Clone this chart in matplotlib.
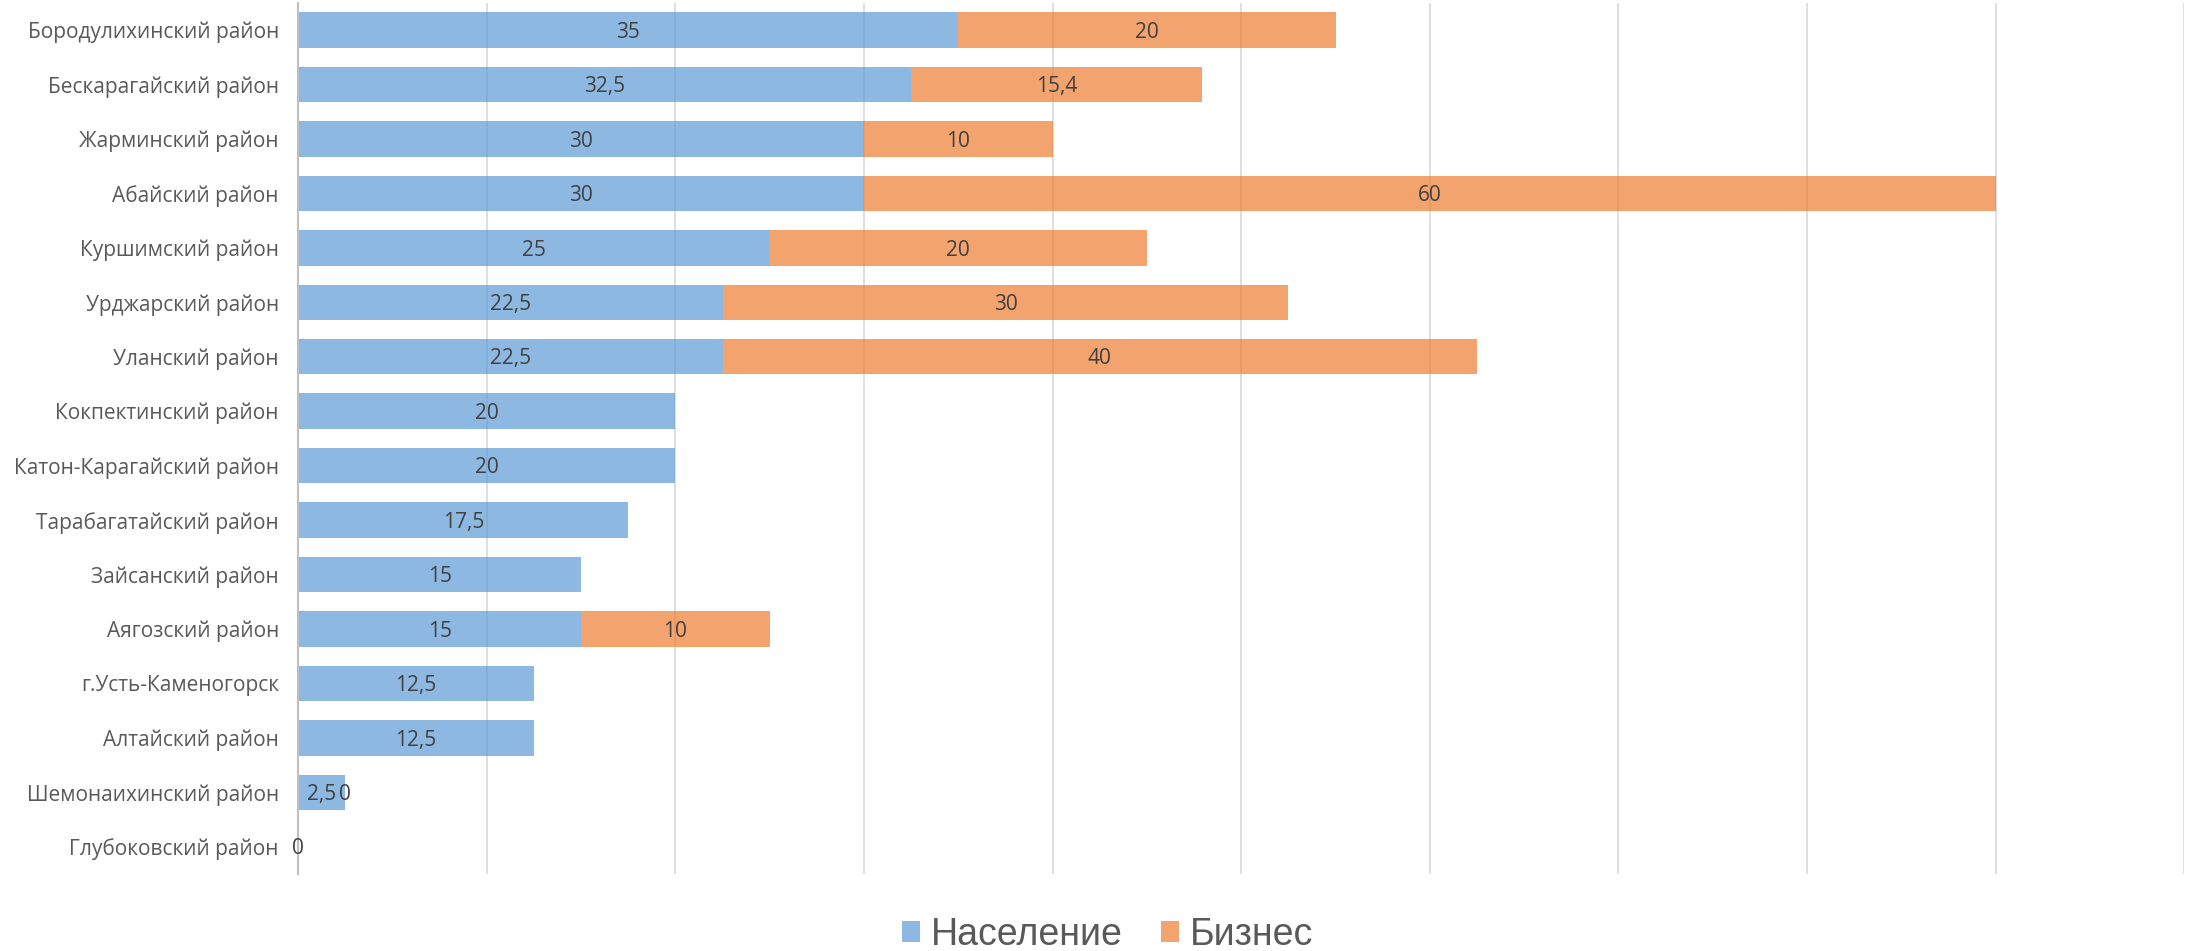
import numpy as np
import matplotlib.pyplot as plt

# районы сверху вниз
districts = ['Бородулихинский район', 'Бескарагайский район', 'Жарминский район',
             'Абайский район', 'Куршимский район', 'Урджарский район', 'Уланский район',
             'Кокпектинский район', 'Катон-Карагайский район', 'Тарабагатайский район',
             'Зайсанский район', 'Аягозский район', 'г.Усть-Каменогорск', 'Алтайский район',
             'Шемонаихинский район', 'Глубоковский район']
naselenie = [35, 32.5, 30, 30, 25, 22.5, 22.5, 20, 20, 17.5, 15, 15, 12.5, 12.5, 2.5, 0]
biznes = [20, 15.4, 10, 60, 20, 30, 40, np.nan, np.nan, np.nan, np.nan, 10, np.nan, np.nan, 0, np.nan]

blue = '#5B9BD5'
orange = '#ED7D31'

def fmt(v):
    return ('%g' % v).replace('.', ',')

fig = plt.figure(figsize=(21.93, 9.51), dpi=100)
ax = fig.add_axes([0.136, 0.081, 0.86, 0.916])

y = np.arange(len(districts))
nas = np.array(naselenie, dtype=float)
biz = np.array(biznes, dtype=float)

b1 = ax.barh(y, nas, height=0.65, color=blue, alpha=0.7, label='Население', zorder=2)
b2 = ax.barh(y, np.nan_to_num(biz), left=nas, height=0.65, color=orange, alpha=0.7,
             label='Бизнес', zorder=2)

# подписи данных
for i in range(len(y)):
    ax.text(nas[i] / 2, y[i] + 0.04, fmt(nas[i]), ha='center', va='center',
            fontsize=15, color='#404040', family='Open Sans', zorder=3)
    if not np.isnan(biz[i]):
        ax.text(nas[i] + biz[i] / 2, y[i] + 0.04, fmt(biz[i]), ha='center', va='center',
                fontsize=15, color='#404040', family='Open Sans', zorder=3)

ax.set_xlim(0, 100)
ax.set_ylim(len(districts) - 0.5, -0.5)
ax.set_yticks(y)
ax.set_yticklabels(districts, fontsize=15, color='#595959', family='Open Sans')
ax.set_xticks(np.arange(0, 101, 10))
ax.set_xticklabels([])
ax.tick_params(axis='both', length=0, pad=14)
ax.grid(axis='x', color='#d9d9d9', linewidth=1.2, zorder=0)
for s in ['top', 'right', 'bottom']:
    ax.spines[s].set_visible(False)
ax.spines['left'].set_color('#bfbfbf')
ax.spines['left'].set_linewidth(1.5)

leg = fig.legend(handles=[b1, b2], loc='center', bbox_to_anchor=(0.505, 0.017), ncol=2,
                 frameon=False, fontsize=27, handlelength=0.48, handleheight=0.48,
                 handletextpad=0.3, columnspacing=1.0, borderpad=0)
for t in leg.get_texts():
    t.set_color('#595959')
    t.set_family('Liberation Sans')

fig.savefig('out.png', dpi=100)
